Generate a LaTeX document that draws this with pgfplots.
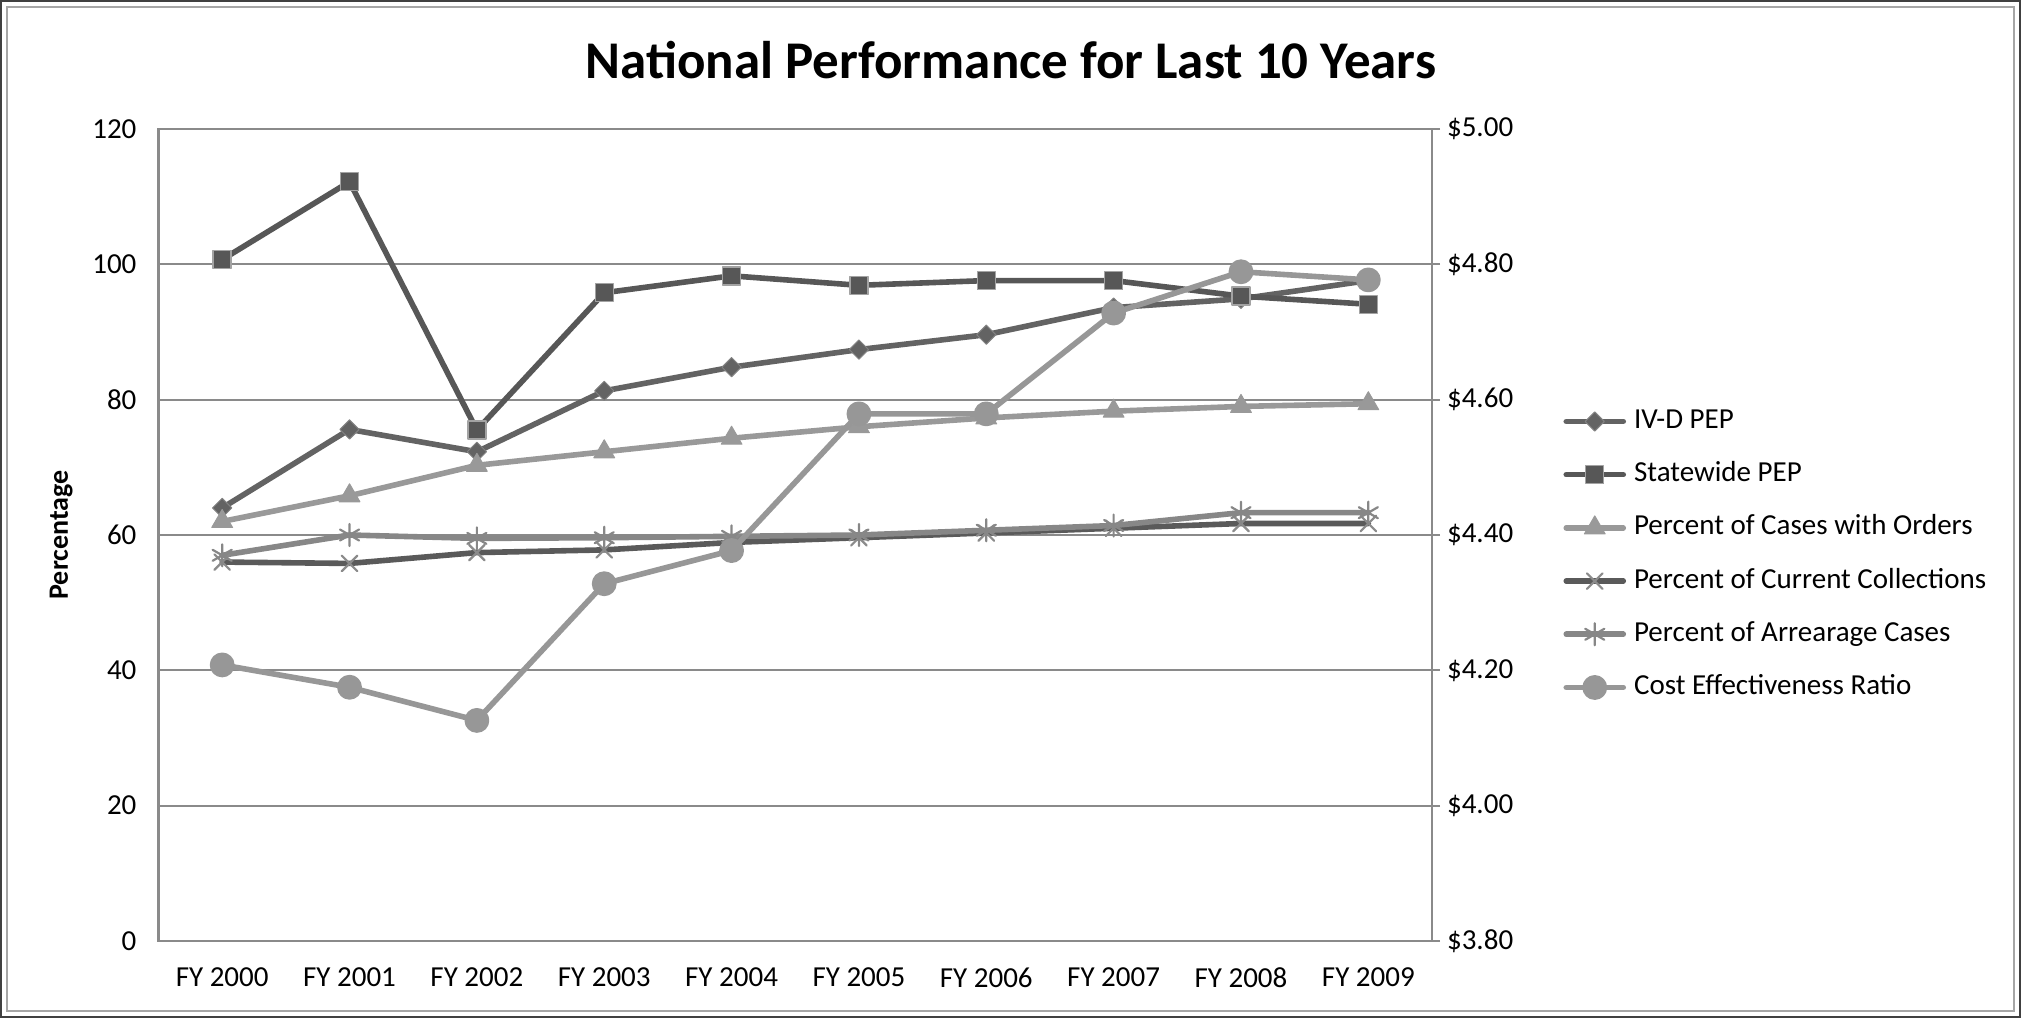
\documentclass[border=0pt]{standalone}
\usepackage{pgfplots}
\usepackage{pgfplotstable}
\pgfplotsset{compat=1.18}
\usepackage{fontspec}
\setmainfont{Carlito}

\definecolor{cIVD}{HTML}{636363}
\definecolor{cState}{HTML}{575757}
\definecolor{cOrders}{HTML}{999999}
\definecolor{cCurr}{HTML}{5A5A5A}
\definecolor{cArr}{HTML}{878787}
\definecolor{cCost}{HTML}{979797}
\definecolor{axcol}{HTML}{8A8A8A}

% values; cost is on the right ($) axis
\pgfplotstableread{
x ivd   state  orders current arrear cost
0 64.0  100.7  62.0   56.0    57.0   4.208
1 75.6  112.2  65.8   55.8    60.0   4.175
2 72.3  75.5   70.3   57.4    59.5   4.126
3 81.3  95.8   72.3   57.8    59.6   4.328
4 84.8  98.3   74.3   58.9    59.8   4.377
5 87.4  96.9   76.0   59.6    60.0   4.579
6 89.6  97.6   77.3   60.3    60.7   4.579
7 93.6  97.6   78.3   61.0    61.4   4.728
8 94.9  95.3   79.0   61.7    63.3   4.789
9 97.6  94.1   79.4   61.7    63.3   4.777
}\perfdata

\pgfplotsset{
  base/.style={
    scale only axis,
    width=636.75pt, height=406pt,
    at={(79.25pt,38.5pt)}, anchor=south west,
    xmin=-0.5, xmax=9.5,
    axis line style={axcol, line width=1.2pt},
    tick label style={font=\fontsize{14.5}{17}\selectfont},
    /pgf/number format/assume math mode=true,
  },
  ser/.style={line width=2.8pt, line join=round, line cap=round},
  legend image code/.code={
    \draw[mark repeat=2, mark phase=2, #1]
      plot coordinates {(0pt,0pt) (14.25pt,0pt) (28.5pt,0pt)};
  },
}

\begin{document}
\begin{tikzpicture}
\draw[black!75, line width=1pt] (0.5pt,0.5pt) rectangle (1010pt,508.5pt);
\draw[gray!70, line width=0.8pt] (3.5pt,3.5pt) rectangle (1007pt,505.5pt);

\node[anchor=base, font=\fontsize{26.5}{30}\selectfont\bfseries] at (505.5pt,469.5pt)
  {National Performance for Last 10 Years};

\begin{axis}[
  base,
  ymin=0, ymax=120,
  ytick={0,20,...,120},
  ymajorgrids,
  grid style={axcol, line width=1pt},
  xtick={0,...,9},
  xticklabels={FY 2000,FY 2001,FY 2002,FY 2003,FY 2004,FY 2005,FY 2006,FY 2007,FY 2008,FY 2009},
  xtick pos=bottom, ytick pos=left,
  major tick length=0pt,
  xticklabel style={yshift=-10pt},
  yticklabel style={xshift=-7.5pt},
  ylabel={Percentage},
  ylabel style={at={(axis description cs:-0.0765,0.5)}, anchor=center,
    font=\fontsize{14}{16}\selectfont\bfseries},
  legend cell align=left,
  legend style={at={(1.1029,0.476)}, anchor=west, draw=none, fill=none,
    inner sep=0pt, row sep=13.6pt, column sep=4pt,
    font=\fontsize{14.5}{17}\selectfont,
    nodes={inner sep=0pt, text height=10pt, text depth=3pt}},
]
\addplot[ser, cIVD, mark=square*, mark size=3.4pt, mark options={rotate=45, fill=cIVD, draw=cIVD!80!white, line width=0.5pt}]
  table[x=x, y=ivd] {\perfdata};
\addlegendentry{IV-D PEP}
\addplot[ser, cState, mark=square*, mark size=4.5pt, mark options={fill=cState, draw=cState!55!white, line width=0.7pt}]
  table[x=x, y=state] {\perfdata};
\addlegendentry{Statewide PEP}
\addplot[ser, cOrders, mark=triangle*, mark size=6pt, mark options={fill=cOrders, draw=cOrders, line width=0.5pt}]
  table[x=x, y=orders] {\perfdata};
\addlegendentry{Percent of Cases with Orders}
\addplot[ser, cCurr, mark=x, mark size=5.5pt, mark options={draw=cCurr!70!white, line width=1.1pt}]
  table[x=x, y=current] {\perfdata};
\addlegendentry{Percent of Current Collections}
\addplot[ser, cArr, mark=asterisk, mark size=5.5pt, mark options={draw=cArr, line width=1.1pt}]
  table[x=x, y=arrear] {\perfdata};
\addlegendentry{Percent of Arrearage Cases}
\addlegendimage{ser, cCost, mark=*, mark size=4.8pt, mark options={fill=cCost, draw=cCost}}
\addlegendentry{Cost Effectiveness Ratio}
\end{axis}

\begin{axis}[
  base,
  ymin=3.8, ymax=5.0,
  hide x axis,
  axis y line*=right,
  ytick={3.8,4.0,4.2,4.4,4.6,4.8,5.0},
  yticklabel={\$\pgfmathprintnumber[fixed, fixed zerofill, precision=2]{\tick}},
  tick align=outside,
  major tick length=4pt,
  ytick style={axcol, line width=1pt},
  yticklabel style={xshift=0pt},
]
\addplot[ser, cCost, mark=*, mark size=4.8pt, mark options={fill=cCost, draw=cCost}]
  table[x=x, y=cost] {\perfdata};
\end{axis}
\end{tikzpicture}
\end{document}
